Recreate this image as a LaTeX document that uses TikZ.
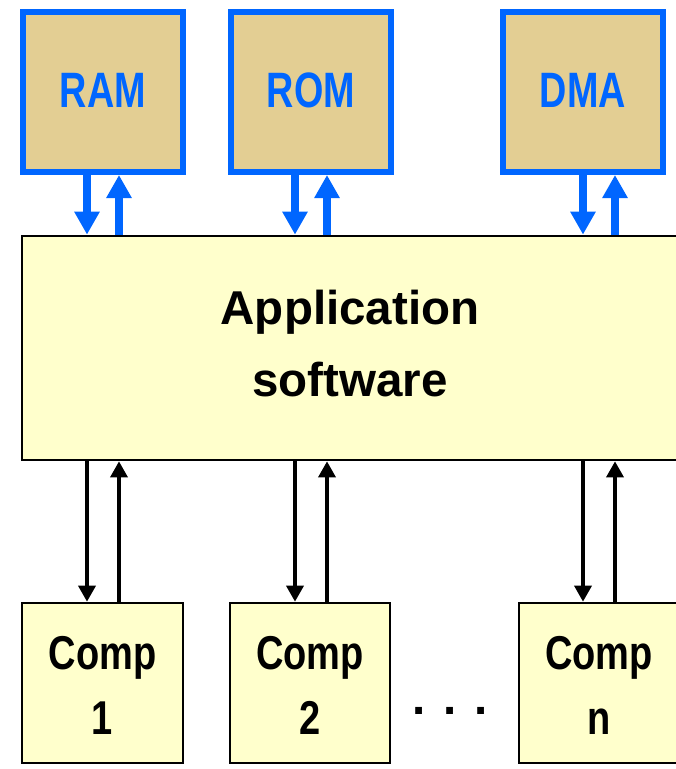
\documentclass[tikz,border=0pt]{standalone}
\usepackage{fontspec}
\setmainfont{Liberation Sans}
\newfontfamily\memsans{Liberation Sans}[FakeStretch=0.76]
\newfontfamily\compsans{Liberation Sans}[FakeStretch=0.8]
\usetikzlibrary{arrows.meta}
\definecolor{memblue}{RGB}{0,102,255}
\definecolor{memtan}{RGB}{227,206,147}
\definecolor{paleyellow}{RGB}{255,255,204}

\begin{document}
\begin{tikzpicture}[x=1pt,y=-1pt,
  membox/.style={draw=memblue, line width=6pt, fill=memtan,
    minimum width=160pt, minimum height=160pt, inner sep=0pt},
  memlabel/.style={text=memblue, anchor=base, inner sep=0pt,
    font=\memsans\bfseries\fontsize{49.7}{50}\selectfont},
  softbox/.style={draw=black, line width=2.7pt, fill=paleyellow, inner sep=0pt},
  complabel/.style={anchor=base, inner sep=0pt,
    font=\compsans\bfseries\fontsize{47.5}{48}\selectfont},
  applabel/.style={anchor=base, inner sep=0pt,
    font=\bfseries\fontsize{47.5}{48}\selectfont},
  blueflow/.style={draw=memblue, line width=8pt,
    -{Triangle[width=24pt,length=23pt]}},
  blackflow/.style={draw=black, line width=3.5pt,
    -{Triangle[width=17pt,length=16pt]}}
]
\useasboundingbox (0,0) rectangle (676,769);

% memory and DMA blocks
\node[membox] (ram) at (103,92) {};
\node[membox] (rom) at (311,92) {};
\node[membox] (dma) at (583,92) {};
\node[memlabel] (ramt) at (103,107) {RAM};
\node[memlabel] (romt) at (311,107) {ROM};
\node[memlabel] (dmat) at (583,107) {DMA};

% application software block
\node[softbox, minimum width=678pt, minimum height=224pt] (app) at (361,348) {};
\node[applabel] (appt1) at (350,324) {Application};
\node[applabel] (appt2) at (350,396) {software};

% components
\node[softbox, minimum width=161pt, minimum height=160pt] (c1) at (102.5,683) {};
\node[softbox, minimum width=160pt, minimum height=160pt] (c2) at (310,683) {};
\node[softbox, minimum width=160pt, minimum height=160pt] (cn) at (599,683) {};
\node[complabel] (c1a) at (102.5,669) {Comp};
\node[complabel] (c1b) at (102.5,734) {1};
\node[complabel] (c2a) at (310,669) {Comp};
\node[complabel] (c2b) at (310,734) {2};
\node[complabel] (cna) at (599,669) {Comp};
\node[complabel] (cnb) at (599,734) {n};
\node[applabel] (dots) at (450,714) {. . .};

% memory <-> application
\draw[blueflow] ([xshift=-16pt]ram.south) -- ([xshift=-16pt]ram.south |- app.north);
\draw[blueflow] ([xshift=16pt]ram.south |- app.north) -- ([xshift=16pt]ram.south);
\draw[blueflow] ([xshift=-16pt]rom.south) -- ([xshift=-16pt]rom.south |- app.north);
\draw[blueflow] ([xshift=16pt]rom.south |- app.north) -- ([xshift=16pt]rom.south);
\draw[blueflow] (dma.south) -- (dma.south |- app.north);
\draw[blueflow] ([xshift=32pt]dma.south |- app.north) -- ([xshift=32pt]dma.south);

% application <-> components
\draw[blackflow] ([xshift=-15.5pt]c1.north |- app.south) -- ([xshift=-15.5pt]c1.north);
\draw[blackflow] ([xshift=16.5pt]c1.north) -- ([xshift=16.5pt]c1.north |- app.south);
\draw[blackflow] ([xshift=-15pt]c2.north |- app.south) -- ([xshift=-15pt]c2.north);
\draw[blackflow] ([xshift=17pt]c2.north) -- ([xshift=17pt]c2.north |- app.south);
\draw[blackflow] ([xshift=-16pt]cn.north |- app.south) -- ([xshift=-16pt]cn.north);
\draw[blackflow] ([xshift=16pt]cn.north) -- ([xshift=16pt]cn.north |- app.south);
\end{tikzpicture}
\end{document}
